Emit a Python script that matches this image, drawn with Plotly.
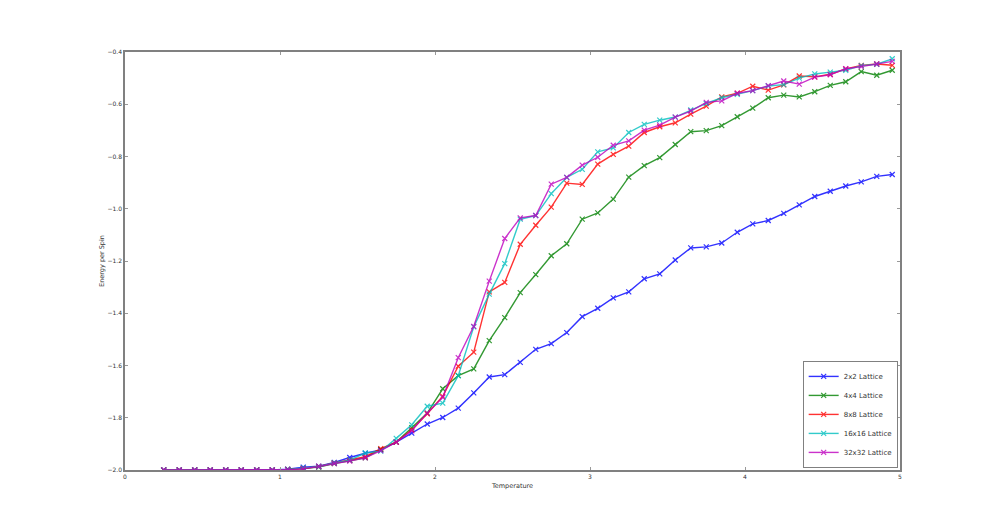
import plotly.graph_objects as go

temperature = [round(0.25 + 0.1 * i, 2) for i in range(48)]

e_2x2 = [-2.0, -2.0, -2.0, -2.0, -2.0, -2.0, -2.0, -2.0,
         -1.997, -1.989, -1.985, -1.971, -1.952, -1.936, -1.923, -1.893, -1.859, -1.824,
         -1.799, -1.763, -1.705, -1.644, -1.635, -1.588, -1.538, -1.516, -1.474, -1.413,
         -1.381, -1.341, -1.318, -1.268, -1.249, -1.196, -1.150, -1.146, -1.131, -1.090,
         -1.058, -1.045, -1.018, -0.985, -0.953, -0.933, -0.913, -0.897, -0.876, -0.869]

e_4x4 = [-2.0, -2.0, -2.0, -2.0, -2.0, -2.0, -2.0, -2.0,
         -1.998, -1.994, -1.989, -1.975, -1.963, -1.953, -1.921, -1.893, -1.838, -1.782,
         -1.689, -1.639, -1.613, -1.505, -1.417, -1.321, -1.252, -1.180, -1.134, -1.040,
         -1.016, -0.963, -0.879, -0.835, -0.804, -0.754, -0.705, -0.701, -0.682, -0.648,
         -0.615, -0.575, -0.565, -0.572, -0.552, -0.528, -0.514, -0.475, -0.489, -0.470]

e_8x8 = [-2.0, -2.0, -2.0, -2.0, -2.0, -2.0, -2.0, -2.0,
         -1.998, -1.994, -1.986, -1.973, -1.962, -1.949, -1.918, -1.893, -1.846, -1.785,
         -1.718, -1.603, -1.549, -1.318, -1.282, -1.136, -1.063, -0.994, -0.902, -0.907,
         -0.829, -0.792, -0.760, -0.708, -0.686, -0.671, -0.638, -0.607, -0.572, -0.558,
         -0.531, -0.546, -0.526, -0.492, -0.495, -0.485, -0.465, -0.451, -0.446, -0.451]

e_16x16 = [-2.0, -2.0, -2.0, -2.0, -2.0, -2.0, -2.0, -2.0,
           -1.998, -1.992, -1.987, -1.973, -1.962, -1.935, -1.928, -1.879, -1.827, -1.756,
           -1.744, -1.639, -1.452, -1.327, -1.210, -1.040, -1.026, -0.942, -0.880, -0.849,
           -0.782, -0.767, -0.708, -0.677, -0.661, -0.649, -0.622, -0.597, -0.575, -0.562,
           -0.548, -0.530, -0.525, -0.500, -0.484, -0.477, -0.470, -0.452, -0.447, -0.426]

e_32x32 = [-2.0, -2.0, -2.0, -2.0, -2.0, -2.0, -2.0, -2.0,
           -1.999, -1.995, -1.987, -1.975, -1.966, -1.953, -1.926, -1.893, -1.850, -1.782,
           -1.722, -1.570, -1.450, -1.277, -1.114, -1.035, -1.026, -0.906, -0.880, -0.833,
           -0.803, -0.757, -0.740, -0.699, -0.680, -0.649, -0.626, -0.593, -0.587, -0.558,
           -0.548, -0.529, -0.511, -0.523, -0.496, -0.487, -0.464, -0.456, -0.446, -0.436]

series_names = ["2x2 Lattice", "4x4 Lattice", "8x8 Lattice", "16x16 Lattice", "32x32 Lattice"]
series_values = [e_2x2, e_4x4, e_8x8, e_16x16, e_32x32]
series_colors = ["#0000ff", "#008000", "#ff0000", "#00bfbf", "#bf00bf"]

x_ticks = [0, 1, 2, 3, 4, 5]
y_ticks = [-2.0, -1.8, -1.6, -1.4, -1.2, -1.0, -0.8, -0.6, -0.4]

fig = go.Figure()
for name, vals, col in zip(series_names, series_values, series_colors):
    fig.add_trace(go.Scatter(
        x=temperature, y=vals, name=name, mode="lines+markers",
        line=dict(color=col, width=1.4),
        marker=dict(symbol="x-thin-open", size=5, color=col, line=dict(color=col, width=1.2)),
        opacity=0.8,
    ))

axis_common = dict(
    showgrid=False, zeroline=False, showline=True, linecolor="#808080", linewidth=1.5,
    mirror="allticks", ticks="inside", ticklen=3, tickcolor="#999999", tickwidth=1,
    tickfont=dict(family="DejaVu Sans", size=6, color="#333333"),
)

fig.update_layout(
    width=1000, height=523,
    margin=dict(l=117, r=108, t=44, b=61),
    paper_bgcolor="white", plot_bgcolor="white",
    font=dict(family="DejaVu Sans", size=6, color="#333333"),
    xaxis=dict(range=[0, 5], tickvals=x_ticks, ticktext=[str(v) for v in x_ticks],
               title=dict(text="Temperature", font=dict(size=6.5), standoff=4), **axis_common),
    yaxis=dict(range=[-2.0, -0.4], tickvals=y_ticks, tickformat=".1f",
               title=dict(text="Energy per Spin", font=dict(size=6.5), standoff=2), **axis_common),
    legend=dict(x=0.997, y=0.005, xanchor="right", yanchor="bottom",
                bgcolor="white", bordercolor="#808080", borderwidth=1,
                font=dict(family="DejaVu Sans", size=7, color="#333333"), tracegroupgap=0,
                itemwidth=30),
    showlegend=True,
)

fig.write_html("out.html")
